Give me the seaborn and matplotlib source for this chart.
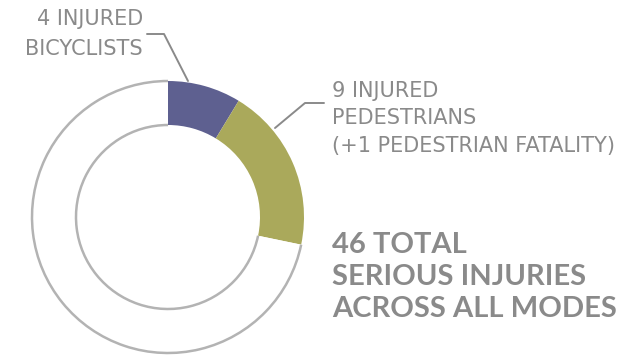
import matplotlib
matplotlib.use("Agg")
import matplotlib.pyplot as plt
from matplotlib.patches import Arc
import seaborn as sns

# Serious injuries by mode
modes = ["Bicyclists", "Pedestrians", "Other modes"]
injuries = [4, 9, 33]
total_injuries = 46
colors = ["#5e6090", "#aaa95b", "#ffffff"]

bike_label = ["4 INJURED", "BICYCLISTS"]
ped_label = ["9 INJURED", "PEDESTRIANS", "(+1 PEDESTRIAN FATALITY)"]
total_label = [f"{total_injuries} TOTAL", "SERIOUS INJURIES", "ACROSS ALL MODES"]

sns.set_theme(style="white")
plt.rcParams["font.family"] = ["DejaVu Sans"]

W, H = 622, 356
fig = plt.figure(figsize=(W / 100, H / 100), dpi=100)
ax = fig.add_axes([0, 0, 1, 1])

cx, cy = 168, H - 217
r_out, ring = 136, 44
r_in = r_out - ring
start = 90

ax.pie(injuries, colors=colors, startangle=start, counterclock=False,
       center=(cx, cy), radius=r_out, frame=True,
       wedgeprops=dict(width=ring, linewidth=0))
ax.set_xlim(0, W)
ax.set_ylim(0, H)
ax.axis("off")

# outline only around the uncoloured part of the ring
coloured = sum(injuries[:2]) / total_injuries * 360
edge = "#b3b3b3"
for r in (r_out, r_in):
    ax.add_patch(Arc((cx, cy), 2 * r, 2 * r, theta1=start,
                     theta2=start + 360 - coloured, color=edge, lw=1.8))

line_c = "#8a8a8a"
text_c = "#8a8a8a"
# leader lines
ax.plot([147, 164, 188], [H - 34, H - 34, H - 81], color=line_c, lw=1.4)
ax.plot([275, 305, 324], [H - 128, H - 103, H - 103], color=line_c, lw=1.4)

for i, s in enumerate(bike_label):
    ax.text(143, H - (25 + 30 * i), s, fontsize=15, color=text_c, va="baseline",
            ha="right")
for i, s in enumerate(ped_label):
    ax.text(332, H - (97 + 27.5 * i), s, fontsize=15, color=text_c, va="baseline",
            ha="left")
for i, s in enumerate(total_label):
    ax.text(332, H - (253 + 32 * i), s, fontsize=21, color=text_c, va="baseline",
            ha="left", fontweight="bold", family=["Lato", "DejaVu Sans"])

fig.savefig("out.png", dpi=100, facecolor="white")
